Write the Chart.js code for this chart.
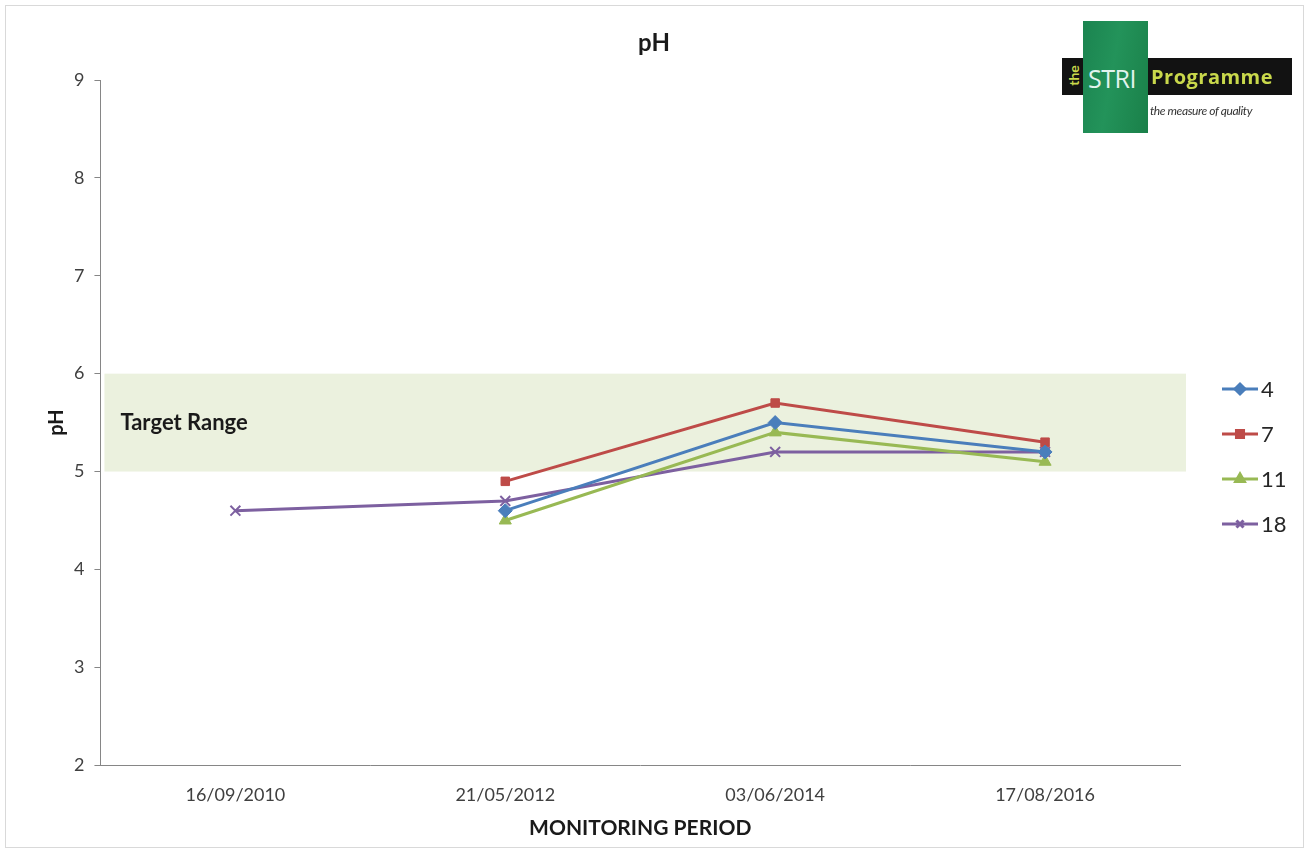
<!DOCTYPE html>
<html>
<head>
<meta charset="utf-8">
<script src="https://cdn.jsdelivr.net/npm/chart.js@4.4.1/dist/chart.umd.min.js"></script>
<style>
  body { margin: 0; background: #fff; }
  #wrap { position: relative; width: 1308px; height: 852px; }
  #frame { position: absolute; left: 5px; top: 5px; width: 1297px; height: 841px; border: 1px solid #d9d9d9; }
  #logo-band { position: absolute; left: 1062px; top: 58px; width: 230px; height: 37px; background: #121212; }
  #logo-green { position: absolute; left: 1083px; top: 21px; width: 65px; height: 112px; background: linear-gradient(100deg, #1b8450 0%, #23935a 45%, #1a8049 100%); }
  #logo-the { position: absolute; left: 1057px; top: 67px; width: 32px; font: bold 14px Lato, sans-serif; color: #c9d84b; transform: rotate(-90deg); text-align: center; }
  #logo-stri { position: absolute; left: 1088px; top: 61px; font: 25px "Open Sans", sans-serif; color: #e2f4ee; letter-spacing: -0.5px; }
  #logo-prog { position: absolute; left: 1151px; top: 63px; font: bold 20px "Open Sans", sans-serif; color: #c9d84b; letter-spacing: 0.5px; }
  #logo-tag { position: absolute; left: 1150px; top: 103px; font: italic 12px Lato, sans-serif; color: #333; letter-spacing: -0.4px; }
  canvas { position: absolute; left: 0; top: 0; }
</style>
</head>
<body>
<div id="wrap">
  <div id="frame"></div>
  <canvas id="myChart" width="1308" height="852"></canvas>
  <div id="logo-band"></div>
  <div id="logo-green"></div>
  <div id="logo-the">the</div>
  <div id="logo-stri">STRI</div>
  <div id="logo-prog">Programme</div>
  <div id="logo-tag">the measure of quality</div>
</div>
<script>
// monitoring dates
var labels = ['16/09/2010', '21/05/2012', '03/06/2014', '17/08/2016'];
var names = ['4', '7', '11', '18'];
var green4 = [null, 4.6, 5.5, 5.2];
var green7 = [null, 4.9, 5.7, 5.3];
var green11 = [null, 4.5, 5.4, 5.1];
var green18 = [4.6, 4.7, 5.2, 5.2];
var targetRange = [5, 6];
var yTicks = [2, 9];

var colors = ['#4A7EBB', '#BE4B48', '#98B954', '#7D60A0'];
var markers = ['rectRot', 'rect', 'triangle', 'crossRot'];
var series = [green4, green7, green11, green18];

var font = 'Lato, "Open Sans", sans-serif';

var bandPlugin = {
    id: 'band',
    beforeDatasetsDraw: function (chart) {
        var c = chart.ctx, a = chart.chartArea, y = chart.scales.y;
        var top = y.getPixelForValue(targetRange[1]);
        var bot = y.getPixelForValue(targetRange[0]);
        c.save();
        c.fillStyle = '#EBF1DE';
        c.fillRect(a.left + 4, top, a.right - a.left + 2, bot - top);
        c.fillStyle = '#1a1a1a';
        c.font = 'bold 22px ' + font;
        c.textBaseline = 'middle';
        c.fillText('Target Range', a.left + 20, y.getPixelForValue((targetRange[0] + targetRange[1]) / 2));
        c.restore();
    }
};

// title centred on the whole picture, legend at the right
var extrasPlugin = {
    id: 'extras',
    afterDraw: function (chart) {
        var c = chart.ctx, a = chart.chartArea;
        c.save();
        c.fillStyle = '#1a1a1a';
        c.font = 'bold 24px ' + font;
        c.textAlign = 'center';
        c.textBaseline = 'middle';
        c.fillText('pH', chart.width / 2, 43);
        c.textAlign = 'left';
        var x0 = a.right + 42;
        chart.data.datasets.forEach(function (ds, i) {
            var yy = 389 + i * 45;
            c.strokeStyle = ds.borderColor;
            c.lineWidth = 3;
            c.beginPath();
            c.moveTo(x0, yy);
            c.lineTo(x0 + 36, yy);
            c.stroke();
            c.fillStyle = ds.borderColor;
            Chart.helpers.drawPoint(c, {
                pointStyle: ds.pointStyle, radius: 5, rotation: 0, borderWidth: 2
            }, x0 + 18, yy);
            c.fillStyle = '#262626';
            c.font = '22px ' + font;
            c.textBaseline = 'middle';
            c.fillText(ds.label, x0 + 39, yy + 1);
        });
        c.restore();
    }
};

var datasets = series.map(function (vals, i) {
    return {
        label: names[i],
        data: vals,
        borderColor: colors[i],
        backgroundColor: colors[i],
        pointStyle: markers[i],
        pointRadius: markers[i] === 'rect' ? 6 : 7,
        pointBorderWidth: markers[i] === 'crossRot' ? 2 : 1,
        borderWidth: 3,
        tension: 0,
        spanGaps: false
    };
});

var ctx = document.getElementById('myChart').getContext('2d');
var myChart = new Chart(ctx, {
    type: 'line',
    data: { labels: labels, datasets: datasets },
    options: {
        responsive: false,
        animation: false,
        layout: { padding: { left: 37, right: 128, top: 80, bottom: 7 } },
        plugins: {
            legend: { display: false },
            tooltip: { enabled: false },
            title: { display: false }
        },
        scales: {
            x: {
                offset: true,
                grid: { display: false, drawTicks: false },
                border: { display: true, color: '#868686', width: 1 },
                ticks: { color: '#404040', font: { family: font, size: 18 }, padding: 19, maxRotation: 0 },
                title: {
                    display: true, text: 'MONITORING PERIOD', color: '#1a1a1a',
                    font: { family: font, size: 21, weight: 'bold' },
                    padding: { top: -9, bottom: 4 }
                }
            },
            y: {
                min: yTicks[0], max: yTicks[1],
                grid: { drawOnChartArea: false, drawTicks: true, tickLength: 6, color: '#868686' },
                border: { display: true, color: '#868686', width: 1 },
                ticks: { stepSize: 1, color: '#404040', font: { family: font, size: 18 }, padding: 10 },
                title: {
                    display: true, text: 'pH', color: '#1a1a1a',
                    font: { family: font, size: 20, weight: 'bold' },
                    padding: { top: 8, bottom: -5 }
                }
            }
        }
    },
    plugins: [bandPlugin, extrasPlugin]
});
</script>
</body>
</html>
